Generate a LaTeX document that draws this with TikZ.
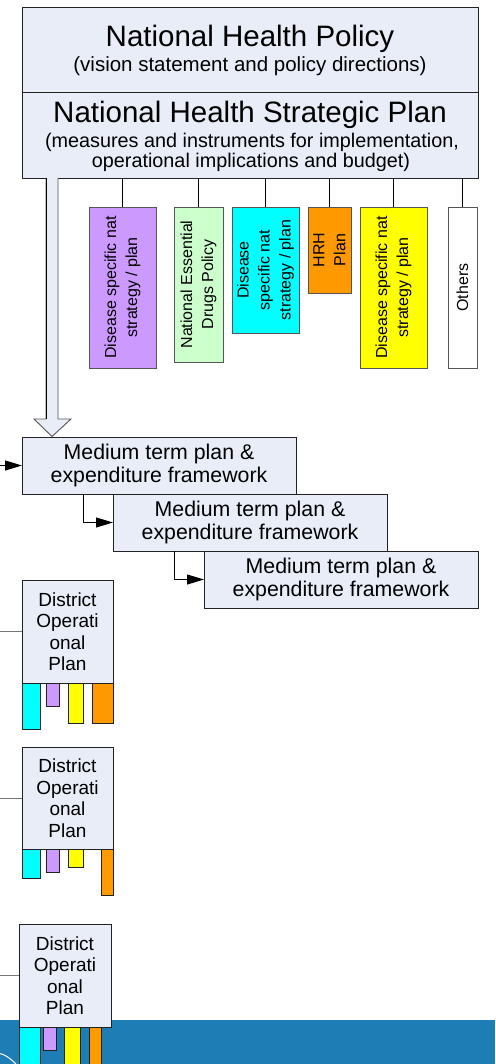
\documentclass[tikz,border=0pt]{standalone}
\usepackage{fontspec}
\setmainfont{Liberation Sans}
\usetikzlibrary{arrows.meta}

\definecolor{boxfill}{HTML}{E8EDF7}
\definecolor{edge}{HTML}{222222}
\definecolor{subedge}{HTML}{555555}
\definecolor{grayline}{HTML}{777777}
\definecolor{violetc}{HTML}{CC99FF}
\definecolor{mintc}{HTML}{CCFFCC}
\definecolor{cyanc}{HTML}{00FFFF}
\definecolor{orangec}{HTML}{FF9900}
\definecolor{yellowc}{HTML}{FFFF00}
\definecolor{bandc}{HTML}{1F7DB5}

\begin{document}
\begin{tikzpicture}[x=1pt,y=-1pt,
  box/.style={draw=edge, fill=boxfill, line width=0.9pt, inner sep=0pt, outer sep=0pt},
  sub/.style={draw=subedge, line width=0.9pt, inner sep=0pt, outer sep=0pt, rotate=90,
              align=center, font=\fontsize{16}{21}\selectfont},
  label/.style={anchor=base, inner sep=0pt},
  mtbox/.style={box, minimum width=274pt, minimum height=57pt, align=center,
                font=\fontsize{21.3}{23}\selectfont},
  distbox/.style={box, minimum width=91pt, minimum height=103pt, align=center,
                  font=\fontsize{19}{21.5}\selectfont},
  link/.style={draw=black, line width=0.9pt},
  glink/.style={draw=grayline, line width=0.9pt},
  flow/.style={draw=black, line width=0.9pt, -{Triangle[length=17pt,width=10pt]}},
  bar/.style={draw=edge, line width=0.8pt}]
\useasboundingbox (0,0) rectangle (495,1064);

% footer band
\fill[bandc] (0,1020) rectangle (495,1064);
\draw[white, line width=1pt] (0,1053.5) .. controls (6,1055) and (11,1059) .. (16,1064);

% national level
\node[box, minimum width=456pt, minimum height=85pt] (policy) at (250,49.5) {};
\node[box, minimum width=456pt, minimum height=86pt] (nhsp) at (250,135) {};
\node[label, font=\fontsize{29.5}{30}\selectfont] (policyT) at (250,47) {National Health Policy};
\node[label, font=\fontsize{20.5}{22}\selectfont] (policyS) at (250,72) {(vision statement and policy directions)};
\node[label, font=\fontsize{29.5}{30}\selectfont] (nhspT) at (250,123) {National Health Strategic Plan};
\node[label, font=\fontsize{19.8}{21}\selectfont] (nhspS1) at (252,148) {(measures and instruments for implementation,};
\node[label, font=\fontsize{19.8}{21}\selectfont] (nhspS2) at (251,168) {operational implications and budget)};

% national sub-strategies
\node[sub, fill=violetc, minimum width=161pt, minimum height=67pt] (s1) at (122.5,287.5) {Disease specific nat\\strategy / plan};
\node[sub, fill=mintc, minimum width=155pt, minimum height=49pt] (s2) at (198.5,284.5) {National Essential\\Drugs Policy};
\node[sub, fill=cyanc, minimum width=126pt, minimum height=67pt] (s3) at (265.5,270) {Disease\\specific nat\\strategy / plan};
\node[sub, fill=orangec, minimum width=86pt, minimum height=43pt] (s4) at (329.5,250) {HRH\\Plan};
\node[sub, fill=yellowc, minimum width=161pt, minimum height=67pt] (s5) at (393.5,287.5) {Disease specific nat\\strategy / plan};
\node[sub, fill=white, minimum width=161pt, minimum height=29pt] (s6) at (462.5,287.5) {Others};
\foreach \s in {s1,s2,s3,s4,s5,s6}
  \draw[link] (\s.east) -- (\s.east |- nhsp.south);

% hollow arrow down to the medium term plan
\draw[draw=subedge, fill=boxfill, line width=0.9pt]
  (46,178) -- (46,419) -- (34,419) -- (52,436.5) -- (71,419) -- (58,419) -- (58,178);
\draw[draw=black, line width=0.9pt] (46,178) -- (46,419);

% medium term plans
\node[mtbox] (mt1) at (159,465.5) {Medium term plan \&\\expenditure framework};
\node[mtbox] (mt2) at (250,522.5) {Medium term plan \&\\expenditure framework};
\node[mtbox] (mt3) at (341,579.5) {Medium term plan \&\\expenditure framework};
\coordinate (in1) at (0,465.5);
\draw[flow] (in1) -- (mt1.west);
\draw[flow] ([xshift=61pt]mt1.south west) |- (mt2.west);
\draw[flow] ([xshift=61pt]mt2.south west) |- (mt3.west);

% district operational plans
\node[distbox] (d1) at (67.5,631.5) {District\\Operati\\onal\\Plan};
\node[distbox, minimum height=102pt] (d2) at (67.5,798) {District\\Operati\\onal\\Plan};
\node[distbox, minimum width=92pt] (d3) at (65,975.5) {District\\Operati\\onal\\Plan};
\coordinate (dl1) at (0,631.5);
\coordinate (dl2) at (0,798);
\coordinate (dl3) at (0,975.5);
\draw[glink] (dl1) -- (d1.west);
\draw[glink] (dl2) -- (d2.west);
\draw[glink] (dl3) -- (d3.west);

% district allocations to the national programmes
\draw[bar, fill=cyanc]   (22,683) rectangle (40,729);
\draw[bar, fill=violetc] (46,683) rectangle (59,706);
\draw[bar, fill=yellowc] (68,683) rectangle (83,723);
\draw[bar, fill=orangec] (92,683) rectangle (113,723);

\draw[bar, fill=cyanc]   (22,849) rectangle (40,878);
\draw[bar, fill=violetc] (46,849) rectangle (59,872);
\draw[bar, fill=yellowc] (68,849) rectangle (83,867);
\draw[bar, fill=orangec] (101,849) rectangle (113,895);

\draw[bar, fill=cyanc]   (19,1027) rectangle (40,1066);
\draw[bar, fill=violetc] (43,1027) rectangle (56,1050);
\draw[bar, fill=yellowc] (64,1027) rectangle (80,1066);
\draw[bar, fill=orangec] (89,1027) rectangle (101,1066);
\end{tikzpicture}
\end{document}
